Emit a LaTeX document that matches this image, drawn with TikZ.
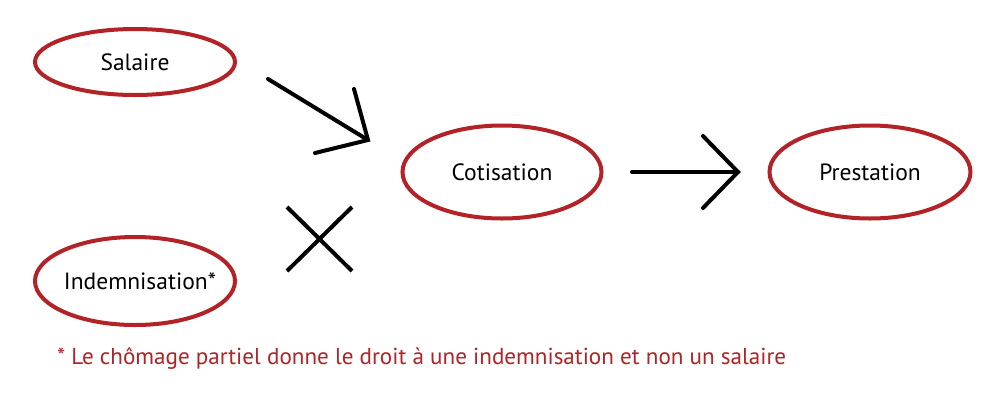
\documentclass[tikz,border=0pt]{standalone}
\usepackage{fontspec}
\setmainfont{PT Sans}
\usetikzlibrary{shapes.geometric}
\definecolor{ered}{RGB}{178,34,38}
\newcommand{\ovaltext}[1]{\makebox[0pt]{#1}}
\begin{document}
\begin{tikzpicture}[x=1pt,y=-1pt,
  oval/.style={ellipse,draw=ered,line width=4pt,inner sep=0pt,font=\fontsize{23.5}{28}\selectfont},
  stroke/.style={draw=black,line width=4pt,line cap=round,line join=miter}]
\useasboundingbox[fill=white] (0,0) rectangle (1005,400);
\node[oval,minimum width=200,minimum height=66] (sal) at (135,62) {\ovaltext{Salaire}};
\node[oval,minimum width=200,minimum height=88] (ind) at (135,281) {\ovaltext{\hspace*{10pt}Indemnisation*}};
\node[oval,minimum width=199,minimum height=93] (cot) at (502,172) {\ovaltext{Cotisation}};
\node[oval,minimum width=201,minimum height=93] (pre) at (870,172) {\ovaltext{Prestation}};
% arrow 1
\coordinate (a1s) at (268,79);
\coordinate (a1t) at (368,140);
\coordinate (a1l) at (354,89);
\coordinate (a1r) at (315,153);
\draw[stroke] (a1s) -- (a1t);
\draw[stroke] (a1l) -- (a1t) -- (a1r);
% arrow 2
\coordinate (a2s) at (632,172);
\coordinate (a2t) at (738,172);
\coordinate (a2l) at (703,136);
\coordinate (a2r) at (703,208);
\draw[stroke] (a2s) -- (a2t);
\draw[stroke] (a2l) -- (a2t) -- (a2r);
% cross
\coordinate (x1) at (287,207);
\coordinate (x2) at (352,271);
\coordinate (x3) at (352,207);
\coordinate (x4) at (287,271);
\draw[stroke,line cap=butt] (x1) -- (x2);
\draw[stroke,line cap=butt] (x3) -- (x4);
\node[anchor=base west,inner sep=0pt,text=ered,font=\fontsize{23.1}{28}\selectfont] (note) at (57,364) {* Le chômage partiel donne le droit à une indemnisation et non un salaire};
\end{tikzpicture}
\end{document}
